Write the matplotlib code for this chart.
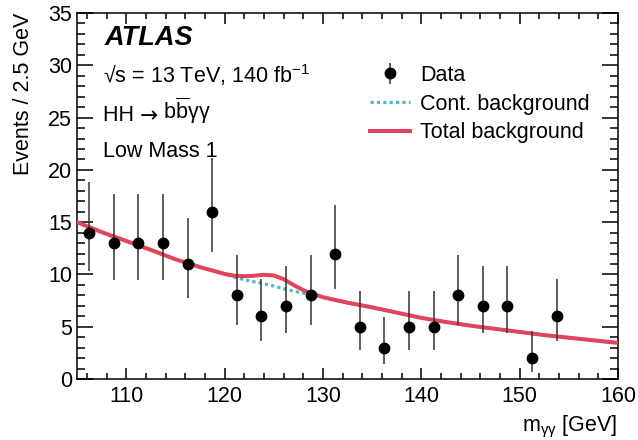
import matplotlib
matplotlib.use("Agg")
import matplotlib.pyplot as plt
from matplotlib.ticker import MultipleLocator

plt.rcParams['font.family'] = ['Liberation Sans', 'DejaVu Sans']
plt.rcParams['mathtext.fontset'] = 'custom'
plt.rcParams['mathtext.rm'] = 'Liberation Sans'
plt.rcParams['mathtext.it'] = 'Liberation Sans:italic'

# data points (bin centres, counts, asymmetric errors)
bin_centers = [106.25, 108.75, 111.25, 113.75, 116.25, 118.75, 121.25, 123.75, 126.25, 128.75,
               131.25, 133.75, 136.25, 138.75, 141.25, 143.75, 146.25, 148.75, 151.25, 153.75]
counts = [14, 13, 13, 13, 11, 16, 8, 6, 7, 8, 12, 5, 3, 5, 5, 8, 7, 7, 2, 6]
err_lo = [3.7, 3.5, 3.5, 3.5, 3.3, 3.9, 2.8, 2.4, 2.6, 2.8, 3.4, 2.2, 1.6, 2.2, 2.2, 2.8, 2.6, 2.6, 1.3, 2.4]
err_hi = [4.8, 4.7, 4.7, 4.7, 4.4, 5.1, 3.9, 3.6, 3.8, 3.9, 4.6, 3.4, 2.9, 3.4, 3.4, 3.9, 3.8, 3.8, 2.6, 3.6]

# background curves
bkg_x = [105, 107.5, 110, 112.5, 115, 117.5, 120, 121, 122, 123, 124, 125, 126, 127, 128, 129,
         130, 132.5, 135, 137.5, 140, 142.5, 145, 147.5, 150, 152.5, 155, 157.5, 160]
total_bkg = [15.0, 14.05, 13.2, 12.35, 11.45, 10.7, 10.05, 9.88, 9.83, 9.88, 9.97, 9.9, 9.55, 9.0,
             8.5, 8.13, 7.82, 7.3, 6.85, 6.35, 5.85, 5.45, 5.1, 4.8, 4.5, 4.2, 3.95, 3.7, 3.45]
cont_bkg = [15.0, 14.05, 13.2, 12.35, 11.45, 10.7, 10.05, 9.73, 9.5, 9.3, 9.1, 8.9, 8.63, 8.4,
            8.22, 8.08, 7.82, 7.3, 6.85, 6.35, 5.85, 5.45, 5.1, 4.8, 4.5, 4.2, 3.95, 3.7, 3.45]

fs = 15.5

fig = plt.figure(figsize=(6.38, 4.40), dpi=100)
ax = fig.add_axes([0.1207, 0.1386, 0.848, 0.8318])

ax.plot(bkg_x, cont_bkg, color='#4fb9c3', lw=2.3, linestyle=(0, (1, 1)), zorder=2,
        label='Cont. background')
ax.plot(bkg_x, total_bkg, color='#e1455d', lw=2.9, zorder=3, label='Total background')
data = ax.errorbar(bin_centers, counts, yerr=[err_lo, err_hi], fmt='o', color='black',
                   ecolor='#333333', elinewidth=1.1, markersize=7.5, zorder=4, label='Data')

ax.set_xlim(105, 160)
ax.set_ylim(0, 35)
ax.xaxis.set_major_locator(MultipleLocator(10))
ax.xaxis.set_minor_locator(MultipleLocator(2))
ax.yaxis.set_major_locator(MultipleLocator(5))
ax.yaxis.set_minor_locator(MultipleLocator(1))
ax.tick_params(which='both', direction='in', top=True, right=True, labelsize=fs, width=1.1)
ax.tick_params(axis='x', which='major', length=8, pad=5)
ax.tick_params(axis='x', which='minor', length=4)
ax.tick_params(axis='y', which='major', length=11.5, pad=3.5)
ax.tick_params(axis='y', which='minor', length=6)
for s in ax.spines.values():
    s.set_linewidth(1.1)

fig.text(24 / 638, 1 - 13 / 440, 'Events / 2.5 GeV', rotation=90, ha='center', va='top',
         fontsize=fs)
fig.text(617 / 638, 1 - 431 / 440, r'm$_{\mathregular{\gamma\gamma}}$ [GeV]', ha='right',
         va='baseline', fontsize=fs)

ax.text(0.0518, 0.9126, 'ATLAS', transform=ax.transAxes, fontsize=19.5, fontweight='bold',
        fontstyle='italic', va='baseline')
ax.text(0.048, 0.8087, r'√s = 13 TeV, 140 fb$^{\mathregular{-1}}$', transform=ax.transAxes,
        fontsize=fs, va='baseline')
t1 = ax.text(0.048, 0.705, 'HH ', transform=ax.transAxes, fontsize=fs, va='baseline')
t2 = ax.annotate('→', xy=(1, 0), xycoords=t1, va='bottom', fontsize=fs,
                 family='DejaVu Sans')
ax.annotate(r' b$\mathregular{\overline{b}}$γγ', xy=(1, 0), xycoords=t2, va='bottom',
            fontsize=fs)
ax.text(0.048, 0.6066, 'Low Mass 1', transform=ax.transAxes, fontsize=fs, va='baseline')

handles, labels = ax.get_legend_handles_labels()
order = [labels.index('Data'), labels.index('Cont. background'), labels.index('Total background')]
ax.legend([handles[i] for i in order], [labels[i] for i in order], loc='upper left',
          bbox_to_anchor=(370 / 638, 1 - 65 / 440), bbox_transform=fig.transFigure,
          frameon=False, fontsize=fs, handlelength=1.86, handletextpad=0.47,
          labelspacing=0.35, borderpad=0, borderaxespad=0)

fig.savefig('out.png', dpi=100)
